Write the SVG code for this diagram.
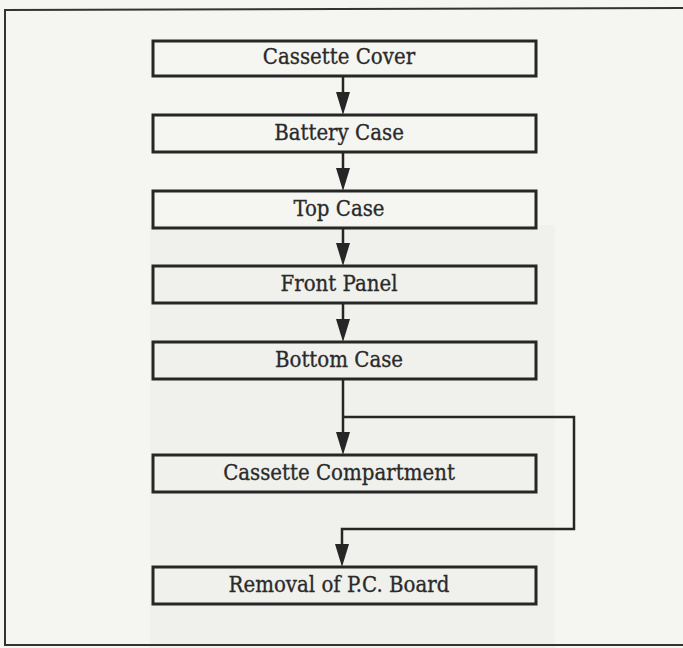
<svg xmlns="http://www.w3.org/2000/svg" width="683" height="648" viewBox="0 0 683 648">
  <style>
    .box rect { fill: none; stroke: #262626; stroke-width: 3; }
    .box text { font-family: "DejaVu Serif Condensed", "DejaVu Serif", "Liberation Serif", serif; font-stretch: condensed; font-size: 22px; fill: #2a2a2a; stroke: #2a2a2a; stroke-width: 0.3; text-anchor: middle; }
    .conn { fill: none; stroke: #262626; stroke-width: 2.5; }
    .head { fill: #262626; }
  </style>
  <rect x="0" y="0" width="683" height="648" fill="#f5f5f1"/>
  <rect x="150" y="225" width="405" height="423" fill="#f0f0ec"/>
  <path d="M683,8 L5,10 L5,645 L683,645" fill="none" stroke="#333" stroke-width="2"/>

  <g id="connectors">
    <path class="conn" d="M343,76 V92"/>
    <path class="head" d="M336,92 L350,92 L343,115 Z"/>
    <path class="conn" d="M343,152 V168"/>
    <path class="head" d="M336,168 L350,168 L343,191 Z"/>
    <path class="conn" d="M343,228 V243"/>
    <path class="head" d="M336,243 L350,243 L343,266 Z"/>
    <path class="conn" d="M343,303 V319"/>
    <path class="head" d="M336,319 L350,319 L343,342 Z"/>
    <path class="conn" d="M343,379 V432"/>
    <path class="head" d="M336,432 L350,432 L343,455 Z"/>
    <path class="conn" d="M343,417 H574 V529 H342 V544"/>
    <path class="head" d="M335,544 L349,544 L342,567 Z"/>
  </g>

  <g id="n1" class="box"><rect x="153" y="41" width="383" height="35"/><text x="339" y="64">Cassette Cover</text></g>
  <g id="n2" class="box"><rect x="153" y="115" width="383" height="37"/><text x="339" y="140">Battery Case</text></g>
  <g id="n3" class="box"><rect x="153" y="191" width="383" height="37"/><text x="339" y="216">Top Case</text></g>
  <g id="n4" class="box"><rect x="153" y="266" width="383" height="37"/><text x="339" y="291">Front Panel</text></g>
  <g id="n5" class="box"><rect x="153" y="342" width="383" height="37"/><text x="339" y="367">Bottom Case</text></g>
  <g id="n6" class="box"><rect x="153" y="455" width="383" height="37"/><text x="339" y="480">Cassette Compartment</text></g>
  <g id="n7" class="box"><rect x="153" y="567" width="383" height="37"/><text x="339" y="592">Removal of P.C. Board</text></g>
</svg>
